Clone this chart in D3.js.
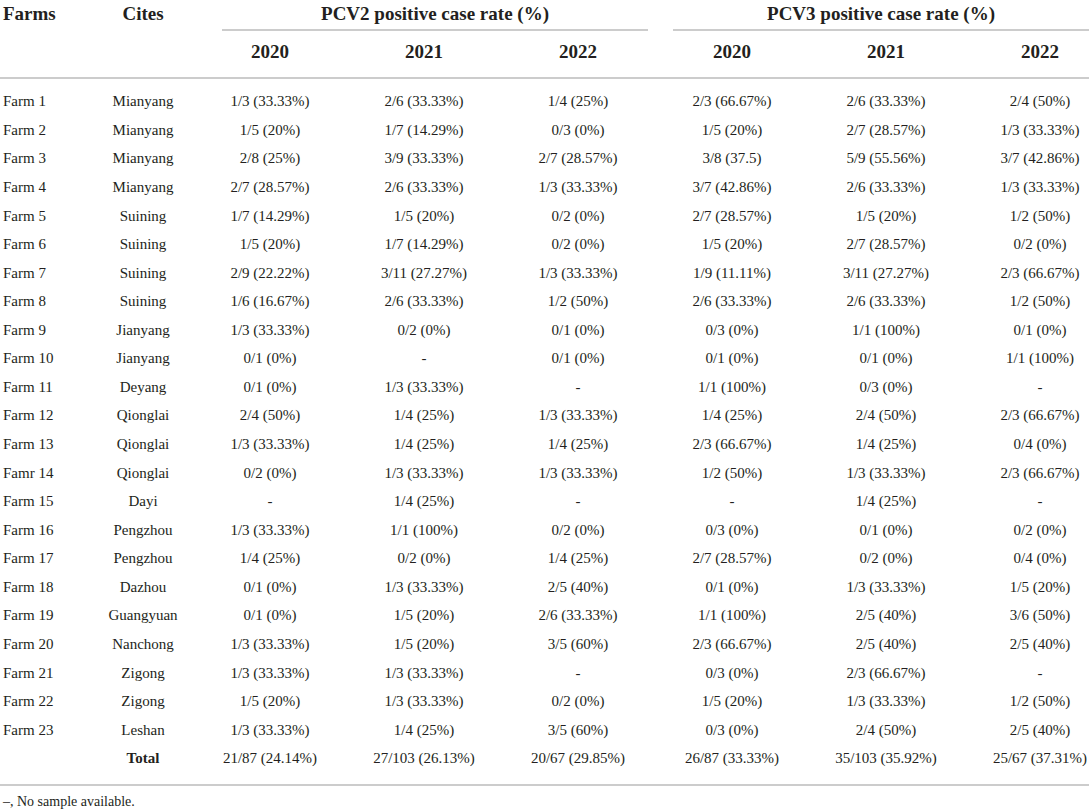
<!DOCTYPE html>
<html>
<head>
<meta charset="utf-8">
<script src="https://cdn.jsdelivr.net/npm/d3@7"></script>
<style>
  body { margin: 0; background: #fff; }
  svg { display: block; }
</style>
</head>
<body>
<div id="table"></div>
<script>

var farms = ["Farm 1","Farm 2","Farm 3","Farm 4","Farm 5","Farm 6","Farm 7","Farm 8","Farm 9","Farm 10",
  "Farm 11","Farm 12","Farm 13","Famr 14","Farm 15","Farm 16","Farm 17","Farm 18","Farm 19","Farm 20",
  "Farm 21","Farm 22","Farm 23"];

var cities = ["Mianyang","Mianyang","Mianyang","Mianyang","Suining","Suining","Suining","Suining","Jianyang","Jianyang",
  "Deyang","Qionglai","Qionglai","Qionglai","Dayi","Pengzhou","Pengzhou","Dazhou","Guangyuan","Nanchong",
  "Zigong","Zigong","Leshan"];

var years = ["2020", "2021", "2022"];
var groups = ["PCV2", "PCV3"];

var pcv2_2020 = ["1/3 (33.33%)","1/5 (20%)","2/8 (25%)","2/7 (28.57%)","1/7 (14.29%)","1/5 (20%)","2/9 (22.22%)","1/6 (16.67%)",
  "1/3 (33.33%)","0/1 (0%)","0/1 (0%)","2/4 (50%)","1/3 (33.33%)","0/2 (0%)","-","1/3 (33.33%)","1/4 (25%)","0/1 (0%)",
  "0/1 (0%)","1/3 (33.33%)","1/3 (33.33%)","1/5 (20%)","1/3 (33.33%)","21/87 (24.14%)"];
var pcv2_2021 = ["2/6 (33.33%)","1/7 (14.29%)","3/9 (33.33%)","2/6 (33.33%)","1/5 (20%)","1/7 (14.29%)","3/11 (27.27%)","2/6 (33.33%)",
  "0/2 (0%)","-","1/3 (33.33%)","1/4 (25%)","1/4 (25%)","1/3 (33.33%)","1/4 (25%)","1/1 (100%)","0/2 (0%)","1/3 (33.33%)",
  "1/5 (20%)","1/5 (20%)","1/3 (33.33%)","1/3 (33.33%)","1/4 (25%)","27/103 (26.13%)"];
var pcv2_2022 = ["1/4 (25%)","0/3 (0%)","2/7 (28.57%)","1/3 (33.33%)","0/2 (0%)","0/2 (0%)","1/3 (33.33%)","1/2 (50%)",
  "0/1 (0%)","0/1 (0%)","-","1/3 (33.33%)","1/4 (25%)","1/3 (33.33%)","-","0/2 (0%)","1/4 (25%)","2/5 (40%)",
  "2/6 (33.33%)","3/5 (60%)","-","0/2 (0%)","3/5 (60%)","20/67 (29.85%)"];
var pcv3_2020 = ["2/3 (66.67%)","1/5 (20%)","3/8 (37.5)","3/7 (42.86%)","2/7 (28.57%)","1/5 (20%)","1/9 (11.11%)","2/6 (33.33%)",
  "0/3 (0%)","0/1 (0%)","1/1 (100%)","1/4 (25%)","2/3 (66.67%)","1/2 (50%)","-","0/3 (0%)","2/7 (28.57%)","0/1 (0%)",
  "1/1 (100%)","2/3 (66.67%)","0/3 (0%)","1/5 (20%)","0/3 (0%)","26/87 (33.33%)"];
var pcv3_2021 = ["2/6 (33.33%)","2/7 (28.57%)","5/9 (55.56%)","2/6 (33.33%)","1/5 (20%)","2/7 (28.57%)","3/11 (27.27%)","2/6 (33.33%)",
  "1/1 (100%)","0/1 (0%)","0/3 (0%)","2/4 (50%)","1/4 (25%)","1/3 (33.33%)","1/4 (25%)","0/1 (0%)","0/2 (0%)","1/3 (33.33%)",
  "2/5 (40%)","2/5 (40%)","2/3 (66.67%)","1/3 (33.33%)","2/4 (50%)","35/103 (35.92%)"];
var pcv3_2022 = ["2/4 (50%)","1/3 (33.33%)","3/7 (42.86%)","1/3 (33.33%)","1/2 (50%)","0/2 (0%)","2/3 (66.67%)","1/2 (50%)",
  "0/1 (0%)","1/1 (100%)","-","2/3 (66.67%)","0/4 (0%)","2/3 (66.67%)","-","0/2 (0%)","0/4 (0%)","1/5 (20%)",
  "3/6 (50%)","2/5 (40%)","-","1/2 (50%)","2/5 (40%)","25/67 (37.31%)"];

var footnote = "\u2013, No sample available.";

var WIDTH = 1089, HEIGHT = 812;
var ink = "#231f20", rule = "#cccccc";

var svg = d3.select("#table").append("svg")
  .attr("width", WIDTH)
  .attr("height", HEIGHT)
  .style("font-family", "'Liberation Serif', 'Times New Roman', serif")
  .style("fill", ink);

// columns: outer band for the two virus groups, inner band for the years
var x0 = d3.scaleBand().domain(groups).range([193, 1117]);
var x1 = d3.scaleBand().domain(years).range([0, x0.bandwidth()]);

// rows: one point per farm plus the total line
var rowKeys = farms.concat(["Total"]);
var y = d3.scalePoint().domain(rowKeys).range([101, 758]);

var columns = {
  PCV2: [pcv2_2020, pcv2_2021, pcv2_2022],
  PCV3: [pcv3_2020, pcv3_2021, pcv3_2022]
};

// header
var head = svg.append("g").attr("class", "head")
  .style("font-weight", "bold").style("font-size", "19px");

head.append("text").attr("x", 3).attr("y", 20).text("Farms");
head.append("text").attr("x", 143).attr("y", 20).attr("text-anchor", "middle").text("Cites");

groups.forEach(g => {
  var gx = x0(g);
  // rule under the group title, the last one runs to the page edge
  var lx1 = gx + (g == "PCV2" ? 29 : 18);
  var lx2 = g == "PCV2" ? gx + x0.bandwidth() - 7 : WIDTH;

  head.append("text")
    .attr("x", (lx1 + lx2) / 2)
    .attr("y", 20)
    .attr("text-anchor", "middle")
    .text(g + " positive case rate (%)");

  svg.append("line")
    .attr("x1", lx1)
    .attr("x2", lx2)
    .attr("y1", 30).attr("y2", 30)
    .attr("stroke", rule).attr("stroke-width", 2);

  head.selectAll(null)
    .data(years)
    .join("text")
      .attr("x", d => gx + x1(d) + x1.bandwidth() / 2)
      .attr("y", 58)
      .attr("text-anchor", "middle")
      .text(d => d);
});

svg.append("line")
  .attr("x1", 0).attr("x2", WIDTH)
  .attr("y1", 78).attr("y2", 78)
  .attr("stroke", rule).attr("stroke-width", 2);

// body
var body = svg.append("g").attr("class", "body").style("font-size", "15px");

body.selectAll("text.farm")
  .data(farms)
  .join("text")
    .attr("class", "farm")
    .attr("x", 3)
    .attr("y", d => y(d))
    .attr("dy", "0.35em")
    .text(d => d);

body.selectAll("text.city")
  .data(cities.concat(["Total"]))
  .join("text")
    .attr("class", "city")
    .attr("x", 143)
    .attr("y", (d, i) => y(rowKeys[i]))
    .attr("dy", "0.35em")
    .attr("text-anchor", "middle")
    .style("font-weight", (d, i) => i == farms.length ? "bold" : null)
    .text(d => d);

groups.forEach(g => {
  columns[g].forEach((vals, j) => {
    var cx = x0(g) + x1(years[j]) + x1.bandwidth() / 2;
    body.selectAll(null)
      .data(vals)
      .join("text")
        .attr("x", cx)
        .attr("y", (d, i) => y(rowKeys[i]))
        .attr("dy", "0.35em")
        .attr("text-anchor", "middle")
        .text(d => d);
  });
});

svg.append("line")
  .attr("x1", 0).attr("x2", WIDTH)
  .attr("y1", 785).attr("y2", 785)
  .attr("stroke", rule).attr("stroke-width", 2);

svg.append("text")
  .attr("x", 3).attr("y", 806)
  .style("font-size", "14px")
  .text(footnote);

</script>
</body>
</html>
